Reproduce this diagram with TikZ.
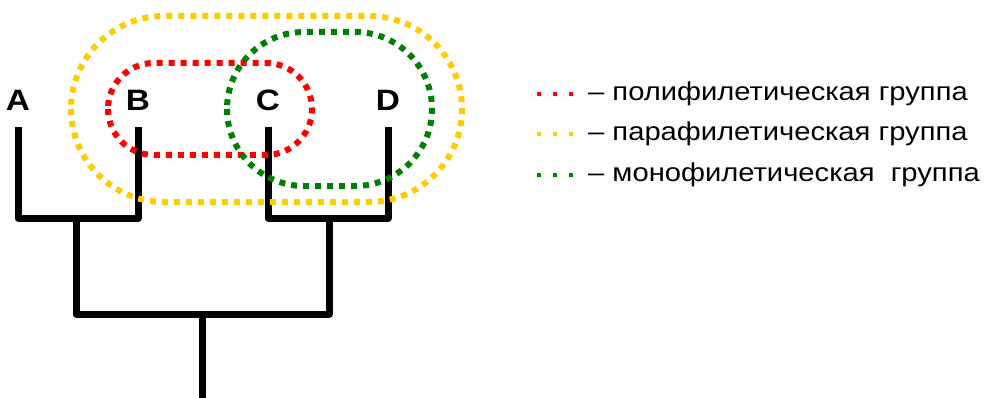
\documentclass[tikz,border=0pt]{standalone}
\usepackage{fontspec}
\setmainfont{Liberation Sans}
\usetikzlibrary{calc}

\definecolor{poly}{RGB}{255,0,0}
\definecolor{para}{RGB}{255,204,0}
\definecolor{mono}{RGB}{0,128,0}

\newcommand{\wide}[1]{\scalebox{1.13}[1]{#1}}

\tikzset{
  branch/.style={line width=7pt, line join=round},
  group/.style={line width=6pt, dash pattern=on 6pt off 6pt},
  sample/.style={line width=4pt, dash pattern=on 4pt off 12pt},
  taxon/.style={font=\fontsize{29.5}{30}\selectfont\bfseries, inner sep=0pt},
  legend/.style={font=\fontsize{25.8}{28}\selectfont, anchor=base west, inner sep=0pt},
}

\begin{document}
\begin{tikzpicture}[x=1pt,y=-1pt]
\useasboundingbox (0,0) rectangle (984,398);

% tips and joints of the tree
\coordinate (t_a) at (18,127);
\coordinate (t_b) at (138,127);
\coordinate (t_c) at (268,127);
\coordinate (t_d) at (388,127);
\coordinate (n_ab) at (76,218);
\coordinate (n_cd) at (329,218);
\coordinate (n_root) at (202,314);
\coordinate (root) at (202,398);

\draw [branch] (t_a) |- (n_ab) -| (t_b);
\draw [branch] (t_c) |- (n_cd) -| (t_d);
\draw [branch] (n_ab) |- (n_root) -| (n_cd);
\draw [branch] (n_root)--(root);

\node [taxon] (A) at ($(t_a)+(0,-27)$) {\wide{A}};
\node [taxon] (B) at ($(t_b)+(0,-27)$) {\wide{B}};
\node [taxon] (C) at ($(t_c)+(0,-27)$) {\wide{C}};
\node [taxon] (D) at ($(t_d)+(0,-27)$) {\wide{D}};

% groups
\draw [group, color=para, rounded corners=93pt] (71,16) rectangle (462,202);
\draw [group, color=poly, rounded corners=46pt] (108,63) rectangle (312,155);
\draw [group, color=mono, rounded corners=77pt] (227,32) rectangle (432,186);

% legend
\draw [sample, color=poly] (537,94)--(573,94);
\draw [sample, color=para] (537,134)--(573,134);
\draw [sample, color=mono] (537,175)--(573,175);
\node [legend] (l_poly) at (588,101) {\wide{– полифилетическая группа}};
\node [legend] (l_para) at (588,141) {\wide{– парафилетическая группа}};
\node [legend] (l_mono) at (588,182) {\wide{– монофилетическая\ \ группа}};
\end{tikzpicture}
\end{document}
